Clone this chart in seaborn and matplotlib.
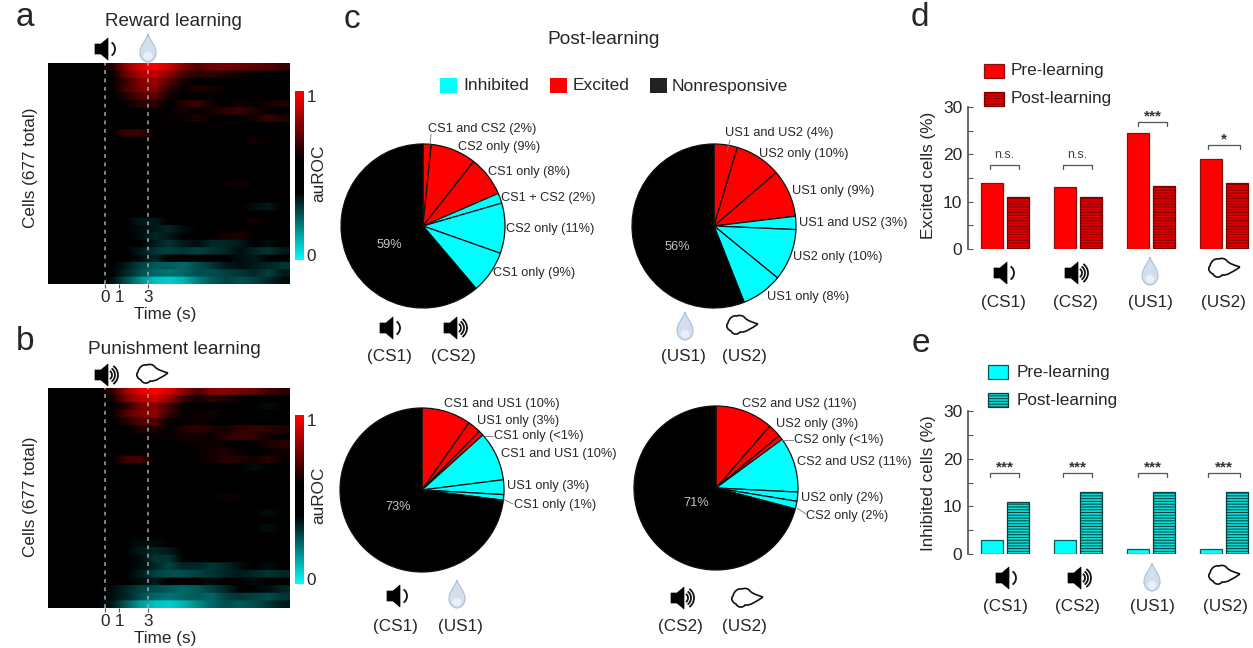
import numpy as np
import pandas as pd
import seaborn as sns
import matplotlib
matplotlib.use('Agg')
import matplotlib.pyplot as plt
from matplotlib.colors import LinearSegmentedColormap
from matplotlib.patches import Arc, Ellipse, PathPatch, Polygon, Rectangle
from matplotlib.path import Path

W, H = 1253, 648

# auROC (x100), one row per band of cells, one column per second (-4 to 12 s)
reward_auroc = [
    [48, 50, 52, 55, 64, 82, 94, 99, 92, 80, 72, 77, 78, 76, 74, 72, 68],
    [46, 50, 50, 52, 60, 76, 87, 90, 82, 70, 66, 66, 64, 62, 60, 56, 52],
    [44, 50, 50, 52, 58, 68, 80, 84, 72, 62, 58, 58, 56, 54, 50, 44, 42],
    [50, 50, 50, 52, 56, 70, 78, 80, 66, 60, 64, 62, 60, 58, 60, 58, 56],
    [50, 50, 52, 52, 54, 64, 72, 74, 62, 58, 58, 60, 58, 52, 50, 48, 46],
    [50, 50, 50, 52, 54, 60, 66, 66, 58, 64, 68, 62, 58, 62, 60, 62, 64],
    [52, 50, 52, 52, 52, 56, 58, 60, 58, 62, 60, 62, 66, 68, 64, 60, 58],
    [50, 50, 50, 50, 52, 54, 56, 58, 60, 60, 64, 60, 58, 60, 62, 68, 64],
    [50, 52, 50, 50, 52, 54, 54, 56, 58, 56, 58, 56, 60, 58, 56, 58, 60],
    [50, 50, 50, 50, 54, 68, 68, 54, 52, 52, 58, 60, 56, 48, 44, 46, 50],
    [50, 50, 50, 50, 50, 52, 52, 54, 56, 60, 56, 52, 54, 58, 62, 56, 52],
    [50, 50, 52, 50, 50, 50, 52, 56, 58, 50, 48, 44, 46, 48, 44, 46, 50],
    [50, 50, 50, 50, 50, 50, 50, 52, 54, 56, 58, 54, 52, 48, 50, 52, 54],
    [50, 52, 56, 52, 50, 50, 50, 50, 50, 52, 50, 46, 48, 44, 46, 48, 50],
    [50, 50, 50, 50, 50, 50, 50, 50, 50, 48, 50, 54, 60, 58, 50, 44, 46],
    [50, 50, 50, 48, 46, 48, 50, 50, 50, 50, 48, 50, 46, 44, 48, 50, 52],
    [50, 50, 50, 48, 44, 50, 50, 48, 46, 44, 46, 52, 60, 62, 58, 52, 48],
    [48, 46, 44, 46, 50, 50, 50, 48, 46, 48, 44, 40, 42, 44, 46, 48, 44],
    [50, 50, 50, 50, 50, 48, 46, 44, 42, 46, 50, 48, 46, 44, 42, 40, 42],
    [50, 48, 50, 50, 50, 48, 46, 42, 40, 44, 48, 50, 44, 40, 38, 36, 40],
    [50, 50, 50, 50, 46, 42, 40, 40, 42, 46, 50, 46, 44, 46, 48, 52, 50],
    [50, 50, 48, 46, 44, 40, 36, 36, 40, 44, 44, 46, 50, 56, 62, 58, 52],
    [50, 50, 50, 48, 46, 42, 38, 36, 34, 38, 42, 44, 46, 48, 44, 46, 48],
    [50, 48, 50, 50, 46, 44, 38, 34, 36, 44, 50, 58, 62, 64, 60, 56, 54],
    [50, 50, 50, 48, 46, 44, 40, 36, 32, 36, 38, 34, 34, 36, 40, 38, 40],
    [48, 50, 50, 46, 44, 42, 36, 32, 30, 32, 30, 32, 34, 38, 34, 32, 36],
    [50, 50, 48, 50, 46, 42, 38, 34, 40, 44, 46, 40, 42, 38, 36, 42, 44],
    [46, 50, 50, 46, 42, 36, 30, 26, 26, 24, 28, 32, 36, 38, 36, 34, 32],
    [48, 50, 50, 46, 42, 34, 28, 24, 22, 24, 28, 28, 30, 32, 34, 30, 36],
    [44, 48, 46, 42, 38, 28, 18, 10, 8, 12, 20, 26, 30, 28, 30, 34, 38],
]
punish_auroc = [
    [46, 50, 52, 56, 66, 84, 96, 100, 94, 82, 72, 80, 82, 78, 76, 70, 66],
    [44, 50, 50, 52, 62, 78, 88, 92, 84, 68, 62, 66, 64, 60, 56, 52, 48],
    [42, 50, 50, 50, 56, 66, 78, 82, 70, 60, 54, 48, 44, 42, 40, 38, 40],
    [50, 50, 50, 52, 56, 72, 80, 82, 68, 60, 60, 62, 58, 56, 58, 56, 54],
    [50, 50, 50, 52, 54, 64, 72, 72, 60, 60, 62, 60, 56, 52, 50, 48, 46],
    [50, 52, 50, 50, 52, 58, 64, 64, 58, 64, 66, 64, 62, 66, 68, 66, 64],
    [52, 50, 52, 52, 52, 54, 58, 60, 60, 62, 62, 60, 66, 68, 66, 62, 60],
    [50, 50, 50, 50, 52, 52, 56, 58, 58, 60, 60, 62, 60, 58, 60, 64, 66],
    [50, 50, 50, 50, 50, 52, 54, 54, 56, 54, 60, 62, 64, 60, 58, 60, 62],
    [54, 52, 50, 50, 54, 68, 70, 54, 52, 54, 60, 62, 66, 64, 62, 66, 60],
    [50, 50, 50, 50, 50, 52, 52, 54, 56, 58, 50, 44, 42, 40, 38, 42, 44],
    [50, 50, 50, 50, 50, 50, 52, 56, 60, 54, 52, 56, 58, 54, 52, 48, 50],
    [50, 50, 50, 50, 50, 50, 50, 50, 52, 50, 48, 46, 44, 50, 52, 54, 50],
    [50, 48, 46, 50, 50, 50, 50, 50, 50, 50, 52, 48, 44, 42, 40, 42, 48],
    [50, 50, 50, 50, 48, 50, 50, 50, 50, 50, 50, 54, 62, 60, 48, 42, 44],
    [50, 50, 48, 46, 42, 46, 50, 50, 48, 50, 50, 54, 52, 50, 46, 44, 46],
    [52, 50, 50, 48, 46, 50, 50, 48, 46, 46, 48, 44, 42, 44, 40, 38, 40],
    [50, 50, 50, 50, 50, 48, 46, 46, 44, 48, 50, 54, 56, 54, 50, 46, 44],
    [48, 46, 48, 50, 50, 48, 44, 42, 40, 44, 48, 50, 46, 42, 40, 38, 40],
    [50, 50, 50, 50, 48, 44, 42, 40, 42, 46, 46, 44, 48, 46, 44, 46, 50],
    [50, 44, 46, 48, 44, 40, 38, 38, 40, 44, 48, 52, 50, 48, 52, 56, 52],
    [50, 50, 50, 48, 44, 40, 36, 34, 36, 42, 44, 46, 48, 44, 42, 44, 46],
    [50, 50, 50, 50, 46, 44, 38, 32, 32, 40, 46, 50, 54, 58, 56, 50, 46],
    [50, 50, 48, 48, 44, 42, 38, 34, 30, 34, 34, 32, 34, 38, 40, 38, 42],
    [48, 50, 50, 46, 46, 42, 36, 30, 28, 28, 30, 32, 34, 36, 34, 32, 34],
    [50, 50, 50, 48, 46, 40, 38, 36, 40, 44, 42, 38, 42, 40, 38, 42, 46],
    [46, 50, 50, 44, 38, 34, 30, 28, 26, 24, 26, 30, 34, 40, 42, 38, 34],
    [48, 50, 48, 44, 38, 34, 28, 24, 22, 24, 26, 24, 30, 32, 30, 28, 32],
    [44, 46, 46, 42, 36, 26, 16, 10, 8, 12, 18, 24, 28, 26, 28, 32, 36],
]
stim_ticks = [0, 1, 3]

pie_colors = ['#ff0000', '#ff0000', '#ff0000', '#00ffff', '#00ffff', '#00ffff', '#000000']
cs_vals = [1.6, 9, 7.9, 2, 9.9, 8.4, 61.2]
us_vals = [4.6, 9.1, 9.4, 2.6, 10.2, 8.1, 56]
cs1us1_vals = [9.7, 2.6, 1, 9.7, 2.9, 1.1, 73]
cs2us2_vals = [11.4, 2.6, 0.9, 10.9, 1.8, 1.5, 70.9]
cs_labels = ['CS1 and CS2 (2%)', 'CS2 only (9%)', 'CS1 only (8%)', 'CS1 + CS2 (2%)', 'CS2 only (11%)', 'CS1 only (9%)']
us_labels = ['US1 and US2 (4%)', 'US2 only (10%)', 'US1 only (9%)', 'US1 and US2 (3%)', 'US2 only (10%)', 'US1 only (8%)']
cs1us1_labels = ['CS1 and US1 (10%)', 'US1 only (3%)', 'CS1 only (<1%)', 'CS1 and US1 (10%)', 'US1 only (3%)', 'CS1 only (1%)']
cs2us2_labels = ['CS2 and US2 (11%)', 'US2 only (3%)', 'CS2 only (<1%)', 'CS2 and US2 (11%)', 'US2 only (2%)', 'CS2 only (2%)']

# bar panels
stimuli = ['CS1', 'CS2', 'US1', 'US2']
phases = ['Pre-learning', 'Post-learning']
excited_pre = [14, 13, 24.5, 19]
excited_post = [11, 11, 13.3, 14]
inhibited_pre = [3, 3, 1, 1]
inhibited_post = [11, 13, 13, 13]
excited_sig = ['n.s.', 'n.s.', '***', '*']
inhibited_sig = ['***', '***', '***', '***']

sns.set_theme(style='ticks')
plt.rcParams['font.family'] = ['Liberation Sans', 'DejaVu Sans']
plt.rcParams['hatch.linewidth'] = 0.7
TXT = '#262626'

fig = plt.figure(figsize=(W / 100, H / 100), dpi=100)


def px_axes(left, top, right, bottom):
    return fig.add_axes([left / W, 1 - bottom / H, (right - left) / W, (bottom - top) / H])


# overlay in pixel coordinates for labels and the little stimulus icons
ov = fig.add_axes([0, 0, 1, 1], zorder=10)
ov.set_xlim(0, W)
ov.set_ylim(H, 0)
ov.axis('off')
ov.patch.set_alpha(0)


def label(x, y, s, size=12.3, ha='center', **kw):
    kw.setdefault('color', TXT)
    ov.text(x, y, s, fontsize=size, ha=ha, va='center', **kw)


def speaker(cx, cy, waves=1):
    pts = [(-10, -5), (-4, -5), (3, -11), (3, 11), (-4, 5), (-10, 5)]
    ov.add_patch(Polygon([(cx + a, cy + b) for a, b in pts], fc='black', ec='black', lw=0.5))
    radii = [8] if waves == 1 else [5, 8, 11]
    for r in radii:
        ov.add_patch(Arc((cx + 2, cy), 2 * r, 2 * r, theta1=-55, theta2=55, color='#111111', lw=1.3))


def drop(cx, cy):
    v = [(0, -15), (2, -8), (8, -4), (8, 4), (8, 9), (4, 13), (0, 13), (-4, 13), (-8, 9), (-8, 4), (-8, -4), (-2, -8), (0, -15)]
    codes = [Path.MOVETO] + [Path.CURVE4] * 12
    ov.add_patch(PathPatch(Path([(cx + a, cy + b) for a, b in v], codes), fc='#d2dfee', ec='#aebfd3', lw=0.8))
    ov.add_patch(Ellipse((cx, cy + 7), 9, 8, fc='#e9f0f7', ec='none'))


def cloud(cx, cy):
    v = [(16, -1), (10, -3), (6, -4), (3, -7), (1, -10), (-3, -10), (-5, -9), (-9, -10), (-13, -7), (-14, -2),
         (-17, 1), (-14, 5), (-11, 6), (-9, 10), (-4, 10), (-2, 7), (3, 8), (10, 3), (16, -1)]
    codes = [Path.MOVETO] + [Path.CURVE4] * 18
    ov.add_patch(PathPatch(Path([(cx + a, cy + b) for a, b in v], codes), fc='white', ec='#111111', lw=1.2))


# a, b: heatmaps
auroc_cmap = LinearSegmentedColormap.from_list(
    'auroc', [(0, '#00ffff'), (0.40, '#000000'), (0.59, '#000000'), (1, '#ff0000')])


def draw_heat(values, top, bottom, cbar_top, cbar_bottom):
    grid = np.array(values) / 100
    ax = px_axes(48, top, 290, bottom)
    cax = px_axes(295, cbar_top, 304, cbar_bottom)
    sns.heatmap(grid, cmap=auroc_cmap, vmin=0, vmax=1, ax=ax, cbar_ax=cax,
                xticklabels=False, yticklabels=False)
    # same array again, blended along time only so the rows stay as streaks
    ax.imshow(np.repeat(grid, 8, axis=0), cmap=auroc_cmap, vmin=0, vmax=1, aspect='auto',
              interpolation='bilinear', extent=(0, grid.shape[1], grid.shape[0], 0), zorder=1.5)
    for t in [0, 3]:
        ax.axvline(t + 4, color='#a8a8a8', lw=1.1, ls=(0, (2.5, 3)), zorder=3)
    ax.set_xticks([t + 4 for t in stim_ticks])
    ax.set_xticklabels(stim_ticks, fontsize=12.3, color=TXT)
    ax.tick_params(axis='x', length=3, width=0.8, pad=1, color='#555555', bottom=True)
    cax.set_yticks([0.03, 0.97], ['0', '1'], fontsize=12.3, color=TXT)
    cax.tick_params(length=0, pad=2)
    return ax


draw_heat(reward_auroc, 63, 284, 91, 260)
draw_heat(punish_auroc, 388, 608, 415, 584)

label(165, 315, 'Time (s)')
label(165, 639, 'Time (s)')
label(31, 168, 'Cells (677 total)', rotation=90)
label(31, 497, 'Cells (677 total)', rotation=90)
label(319, 173, 'auROC', rotation=90)
label(319, 495, 'auROC', rotation=90)
label(173, 22, 'Reward learning', 13.6)
label(174, 350, 'Punishment learning', 13.7)
speaker(105, 49, 1)
drop(148, 49)
speaker(105, 375, 3)
cloud(152, 374)
label(25, 18, 'a', 24)
label(25, 342, 'b', 24)
label(352, 20, 'c', 24)
label(920, 18, 'd', 24)
label(921, 343, 'e', 24)


# c: pies
def draw_pie(values, cx, cy, text, text_pos, pct, pct_pos):
    r = 82
    ax = px_axes(cx - r, cy - r, cx + r, cy + r)
    ax.pie(values, colors=pie_colors, startangle=90, counterclock=False, radius=1,
           wedgeprops=dict(edgecolor='#101010', linewidth=0.9))
    ax.set_xlim(-1, 1)
    ax.set_ylim(-1, 1)
    for s, (x, y) in zip(text, text_pos):
        label(x, y, s, 9.2, ha='left')
    label(pct_pos[0], pct_pos[1], pct, 9.2, color='#c4c4c4')


draw_pie(cs_vals, 423, 226, cs_labels,
         [(428, 129), (458, 147), (488, 172), (501, 198), (506, 229), (493, 273)], '59%', (389, 245))
draw_pie(us_vals, 714, 226, us_labels,
         [(725, 133), (759, 154), (792, 191), (799, 223), (793, 257), (767, 297)], '56%', (677, 247))
draw_pie(cs1us1_vals, 422, 490, cs1us1_labels,
         [(444, 404), (477, 421), (494, 436), (501, 454), (507, 486), (514, 505)], '73%', (398, 507))
draw_pie(cs2us2_vals, 716, 488, cs2us2_labels,
         [(742, 404), (776, 424), (794, 440), (797, 462), (801, 498), (806, 516)], '71%', (696, 503))

# leader lines on the small slices
for x0, y0, x1, y1 in [(430, 145, 431, 134), (727, 152, 730, 140), (485, 436, 493, 436),
                       (503, 499, 513, 504), (781, 440, 793, 440), (797, 508, 806, 514)]:
    ov.plot([x0, x1], [y0, y1], color='#777777', lw=0.6)

label(604, 39, 'Post-learning', 13.8)
for x, color, name, tx in [(440, '#00ffff', 'Inhibited', 463), (550, '#ff0000', 'Excited', 573),
                           (650, '#222222', 'Nonresponsive', 672)]:
    ov.add_patch(Rectangle((x, 78), 17, 15, fc=color, ec='none'))
    label(tx, 86, name, ha='left', size=12.5)

speaker(390, 328, 1)
speaker(454, 328, 3)
label(389, 357, '(CS1)')
label(453, 357, '(CS2)')
drop(685, 327)
cloud(742, 325)
label(683, 357, '(US1)')
label(744, 357, '(US2)')
speaker(397, 596, 1)
drop(457, 595)
label(395, 627, '(CS1)')
label(460, 627, '(US1)')
speaker(681, 598, 3)
cloud(747, 598)
label(680, 627, '(CS2)')
label(744, 627, '(US2)')


# d, e: bars
def draw_bars(pre, post, top, bottom, colors, edge, hatch_col):
    df = pd.DataFrame({
        'stimulus': stimuli * 2,
        'phase': [phases[0]] * 4 + [phases[1]] * 4,
        'percent': pre + post,
    })
    ax = px_axes(968, top, 1253, bottom)
    sns.barplot(data=df, x='stimulus', y='percent', hue='phase', order=stimuli, hue_order=phases,
                palette=colors, width=0.7, gap=0.16, saturation=1, legend=False, ax=ax)
    for bar in ax.containers[0]:
        bar.set_edgecolor(edge)
        bar.set_linewidth(0.9)
    for bar in ax.containers[1]:
        bar.set_edgecolor(hatch_col)
        bar.set_hatch('------')
        bar.set_linewidth(0.9)
    ax.set_xlim((968 - 1005) / 73, (1253 - 1005) / 73)
    ax.set_ylim(0, 30)
    ax.set_yticks([0, 10, 20, 30])
    ax.set_yticks([5, 15, 25], minor=True)
    ax.set_xticks([])
    ax.set_xlabel('')
    ax.set_ylabel('')
    ax.tick_params(axis='y', which='both', direction='in', length=3.5, width=0.8, color='#555555',
                   labelsize=12.5, labelcolor=TXT, pad=4)
    ax.patch.set_alpha(0)
    sns.despine(ax=ax, bottom=True)
    ax.spines['left'].set_color('#555555')
    return ax


draw_bars(excited_pre, excited_post, 107, 249, ['#ff0000', '#e00000'], '#8a1010', '#7a0000')
draw_bars(inhibited_pre, inhibited_post, 411, 554, ['#00ffff', '#10d8d0'], '#0a5a5a', '#04403f')
label(928, 175, 'Excited cells (%)', rotation=90)
label(928, 483, 'Inhibited cells (%)', rotation=90)


def bracket(x0, x1, y, s):
    ov.plot([x0, x0, x1, x1], [y + 4, y, y, y + 4], color='#555555', lw=0.9)
    if s == 'n.s.':
        label((x0 + x1) / 2, y - 10, s, 9, color='#444444')
    else:
        label((x0 + x1) / 2, y - 6, s, 11, color='#333333', fontweight='bold')


bracket_x = [(990, 1019), (1063, 1092), (1138, 1167), (1208, 1240)]
for (x0, x1), y, s in zip(bracket_x, [165, 165, 122, 145], excited_sig):
    bracket(x0, x1, y, s)
for (x0, x1), s in zip(bracket_x, inhibited_sig):
    bracket(x0, x1, 473, s)

for y, color, edge, name, hatch in [(64, '#ff0000', '#8a1010', phases[0], None), (92, '#e00000', '#7a0000', phases[1], '------')]:
    ov.add_patch(Rectangle((984, y), 20, 14, fc=color, ec=edge, lw=0.9, hatch=hatch))
    label(1011, y + 7, name, ha='left')
for y, color, edge, name, hatch in [(365, '#00ffff', '#0a5a5a', phases[0], None), (393, '#10d8d0', '#04403f', phases[1], '------')]:
    ov.add_patch(Rectangle((988, y), 20, 14, fc=color, ec=edge, lw=0.9, hatch=hatch))
    label(1017, y + 7, name, ha='left')

speaker(1004, 273, 1)
speaker(1075, 273, 3)
drop(1150, 272)
cloud(1224, 268)
for x, s in zip([1003, 1075, 1150, 1223], stimuli):
    label(x, 303, '(' + s + ')')
speaker(1006, 578, 1)
speaker(1078, 578, 3)
drop(1152, 578)
cloud(1224, 575)
for x, s in zip([1005, 1077, 1152, 1225], stimuli):
    label(x, 607, '(' + s + ')')

fig.savefig('out.png', dpi=100)
